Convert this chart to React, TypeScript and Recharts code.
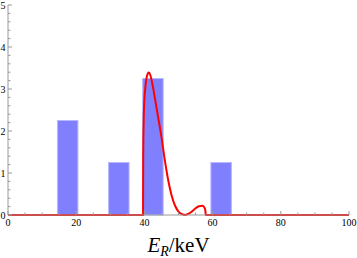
import { Bar, ComposedChart, Line, XAxis, YAxis } from "recharts";

// histogram bins (centre, count)
const binCentres = [17.5, 32.5, 42.5, 62.5];
const binCounts = [2.25, 1.25, 3.25, 1.25];

// red spectrum curve
const curveE = [
  0, 39.6, 39.65, 39.8, 40.0, 40.3, 40.6, 41.0, 41.3, 41.7, 42.0, 42.5, 43.0,
  44.0, 45.0, 46.0, 47.0, 48.0, 49.0, 50.0, 51.0, 52.0, 53.0, 54.0, 55.0,
  56.0, 57.0, 57.5, 57.85, 58.0, 100,
];
const curveRate = [
  0, 0, 1.4, 2.3, 2.75, 3.05, 3.25, 3.37, 3.39, 3.34, 3.25, 3.05, 2.82, 2.34,
  1.86, 1.3, 0.82, 0.46, 0.22, 0.08, 0.02, 0, 0.03, 0.09, 0.16, 0.21, 0.22,
  0.19, 0.12, 0, 0,
];

const xTicks = Array.from({ length: 21 }, (_, i) => i * 5);
const yTicks = Array.from({ length: 26 }, (_, i) => Math.round(i * 2) / 10);

const FRAME = "#9a9a9a";
const SERIF = "'Liberation Serif', 'DejaVu Serif', serif";
const BIN_PX = 20.5; // 6 keV wide bins

const barData = binCentres.map((x, i) => ({ x, count: binCounts[i] }));
const curveData = curveE.map((x, i) => ({ x, rate: curveRate[i] }));

const isMajorX = (v: number) => v % 20 === 0;
const isMajorY = (v: number) => Math.abs(v - Math.round(v)) < 1e-6;

function BottomTick({ x, y, payload }: any) {
  const major = isMajorX(payload.value);
  return (
    <g>
      <line x1={x} y1={y} x2={x} y2={y - (major ? 4 : 2.5)} stroke={FRAME} />
      {major && (
        <text x={x} y={y + 11} textAnchor="middle" fontSize={10} fontFamily={SERIF} fill="#000">
          {payload.value}
        </text>
      )}
    </g>
  );
}

function TopTick({ x, y, payload }: any) {
  const major = isMajorX(payload.value);
  return <line x1={x} y1={y} x2={x} y2={y + (major ? 4 : 2.5)} stroke={FRAME} />;
}

function LeftTick({ x, y, payload }: any) {
  const major = isMajorY(payload.value);
  return (
    <g>
      <line x1={x} y1={y} x2={x + (major ? 4 : 2.5)} y2={y} stroke={FRAME} />
      {major && (
        <text x={x - 2.5} y={y + 3.5} textAnchor="end" fontSize={10} fontFamily={SERIF} fill="#000">
          {Math.round(payload.value)}
        </text>
      )}
    </g>
  );
}

function RightTick({ x, y, payload }: any) {
  const major = isMajorY(payload.value);
  return <line x1={x} y1={y} x2={x - (major ? 4 : 2.5)} y2={y} stroke={FRAME} />;
}

function BinRect({ x, y, width, height }: any) {
  const cx = x + width / 2;
  return (
    <rect
      x={cx - BIN_PX / 2}
      y={y}
      width={BIN_PX}
      height={height}
      fill="#8080ff"
      stroke="#b8b8ff"
      strokeWidth={1}
    />
  );
}

function AxisTitle({ viewBox }: any) {
  const cx = viewBox.x + viewBox.width / 2;
  return (
    <text x={cx} y={viewBox.y + 37} textAnchor="middle" fontFamily={SERIF} fontSize={21} fill="#000">
      <tspan fontStyle="italic">E</tspan>
      <tspan fontStyle="italic" fontSize={14} dy={4}>R</tspan>
      <tspan dy={-4}>/keV</tspan>
    </text>
  );
}

export default function App() {
  return (
    <div style={{ position: "absolute", left: 0, top: 0, background: "#fff" }}>
      <ComposedChart
        width={357}
        height={258}
        data={barData}
        margin={{ top: 5, right: 8, left: 0, bottom: 0 }}
      >
        <XAxis
          dataKey="x"
          type="number"
          domain={[0, 100]}
          ticks={xTicks}
          interval={0}
          height={43}
          tickSize={0}
          tickMargin={0}
          tickLine={false}
          axisLine={{ stroke: FRAME }}
          tick={<BottomTick />}
          label={<AxisTitle />}
        />
        <XAxis
          xAxisId="top"
          orientation="top"
          type="number"
          domain={[0, 100]}
          ticks={xTicks}
          interval={0}
          height={0}
          tickSize={0}
          tickMargin={0}
          tickLine={false}
          axisLine={{ stroke: FRAME }}
          tick={<TopTick />}
        />
        <YAxis
          type="number"
          domain={[0, 5]}
          ticks={yTicks}
          interval={0}
          width={8}
          tickSize={0}
          tickMargin={0}
          tickLine={false}
          axisLine={{ stroke: FRAME }}
          tick={<LeftTick />}
        />
        <YAxis
          yAxisId="right"
          orientation="right"
          type="number"
          domain={[0, 5]}
          ticks={yTicks}
          interval={0}
          width={0}
          tickSize={0}
          tickMargin={0}
          tickLine={false}
          axisLine={{ stroke: FRAME }}
          tick={<RightTick />}
        />
        <Bar dataKey="count" shape={<BinRect />} isAnimationActive={false} />
        <Line
          data={curveData}
          dataKey="rate"
          type="monotone"
          stroke="#ff0000"
          strokeWidth={2}
          dot={false}
          activeDot={false}
          isAnimationActive={false}
        />
      </ComposedChart>
    </div>
  );
}
